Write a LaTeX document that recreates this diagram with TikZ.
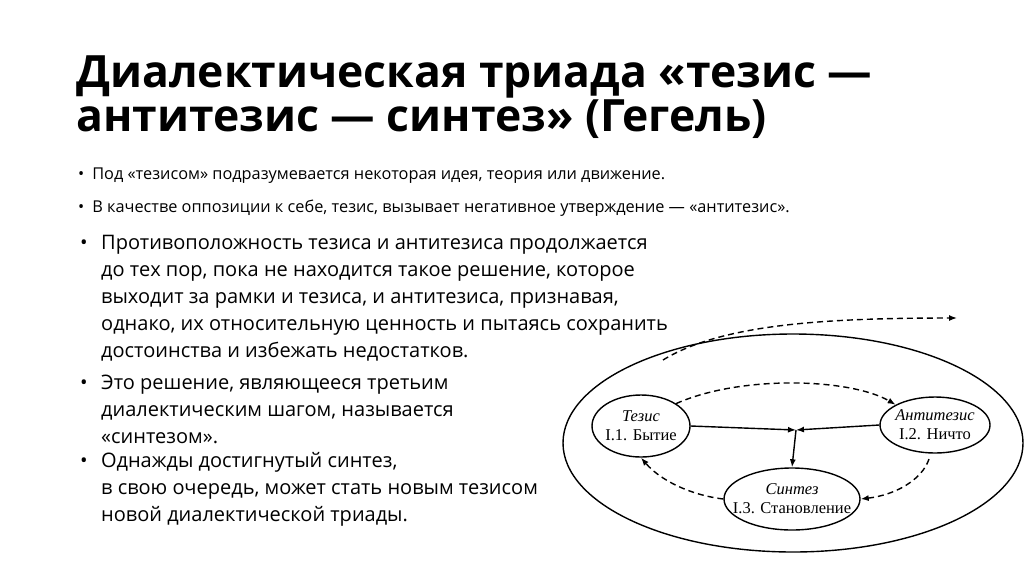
\documentclass[tikz,border=0pt]{standalone}
\usepackage{fontspec}
\setmainfont{Open Sans}
\newfontfamily\serifr{Liberation Serif}
\usetikzlibrary{arrows.meta,shapes.geometric}
\begin{document}
\begin{tikzpicture}[x=1pt,y=-1pt,
  ln/.style={anchor=base west,inner sep=0pt,font=\fontsize{20}{24}\selectfont},
  sm/.style={anchor=base west,inner sep=0pt,font=\fontsize{19.8}{22}\selectfont},
  el/.style={draw,line width=1.4pt,ellipse,inner sep=0pt},
  da/.style={line width=1.4pt,dash pattern=on 6pt off 4pt,-{Latex[length=8pt,width=6pt]}},
  so/.style={line width=1.4pt,-{Latex[length=8pt,width=6pt]}},
  lab/.style={align=center,font=\serifr\fontsize{16.5}{19}\selectfont}]
\useasboundingbox (0,0) rectangle (1024,574);
\node[anchor=base west,inner sep=0pt,font=\bfseries\fontsize{44.5}{48}\selectfont] (t1) at (76,87) {Диалектическая триада «тезис —};
\node[anchor=base west,inner sep=0pt,font=\bfseries\fontsize{44.5}{48}\selectfont] (t2) at (76,131) {антитезис — синтез» (Гегель)};
\node[sm,font=\fontsize{16.3}{20}\selectfont] (b1) at (78,179) {•\hspace{8pt}Под «тезисом» подразумевается некоторая идея, теория или движение.};
\node[sm,font=\fontsize{16.3}{20}\selectfont] (b2) at (78,212) {•\hspace{8pt}В качестве оппозиции к себе, тезис, вызывает негативное утверждение — «антитезис».};
\node[ln] (c0) at (80,249) {•};
\node[ln] (c1) at (101,249) {Противоположность тезиса и антитезиса продолжается};
\node[ln] (c2) at (101,276) {до тех пор, пока не находится такое решение, которое};
\node[ln] (c3) at (101,303) {выходит за рамки и тезиса, и антитезиса, признавая,};
\node[ln] (c4) at (101,330) {однако, их относительную ценность и пытаясь сохранить};
\node[ln] (c5) at (101,357) {достоинства и избежать недостатков.};
\node[ln] (d0) at (80,389) {•};
\node[ln] (d1) at (101,389) {Это решение, являющееся третьим};
\node[ln] (d2) at (101,416) {диалектическим шагом, называется};
\node[ln] (d3) at (101,443) {«синтезом».};
\node[ln] (e0) at (80,467) {•};
\node[ln] (e1) at (101,467) {Однажды достигнутый синтез,};
\node[ln] (e2) at (101,494) {в свою очередь, может стать новым тезисом};
\node[ln] (e3) at (101,521) {новой диалектической триады.};
% diagram
\node[el,minimum width=460pt,minimum height=218pt] (big) at (793,443) {};
\node[el,minimum width=98pt,minimum height=62pt] (a) at (641,426) {};
\node[lab] at (641,426) {\itshape Тезис\\I.1. Бытие};
\node[el,minimum width=110pt,minimum height=56pt] (b) at (935,425) {};
\node[lab] at (935,425) {\itshape Антитезис\\I.2. Ничто};
\node[el,minimum width=136pt,minimum height=62pt] (c) at (792,499) {};
\node[lab] at (792,499) {\itshape Синтез\\I.3. Становление};
\coordinate (j) at (796,430);
\coordinate (top0) at (663,360);
\coordinate (top1) at (957,318);
\coordinate (bs) at (929,459);
\draw[so] (a.east) -- (j);
\draw[so] (b.west) -- (j);
\draw[so] (j) -- (c.north);
\draw[da] (top0) .. controls (720,325) and (820,318) .. (top1);
\draw[da] (a.north east) .. controls (740,375) and (850,378) .. (b.north west);
\draw[da] (bs) .. controls (922,480) and (895,495) .. (c.east);
\draw[da] (c.west) .. controls (690,495) and (660,480) .. (a.south);
\end{tikzpicture}
\end{document}
